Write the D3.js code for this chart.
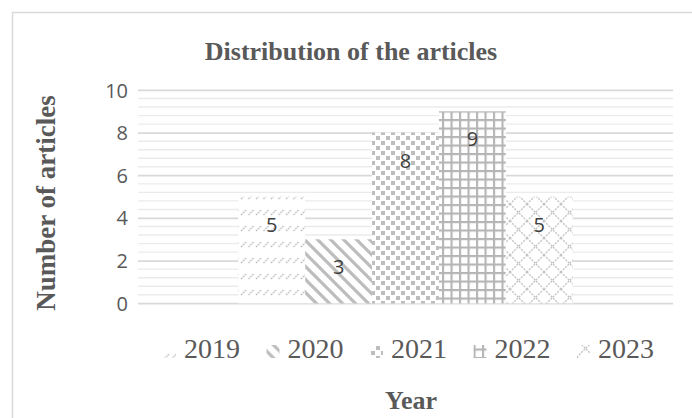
<!DOCTYPE html>
<html>
<head>
<meta charset="utf-8">
<script src="https://cdn.jsdelivr.net/npm/d3@7"></script>
<style>
  body { margin: 0; background: #fff; }
  svg { display: block; }
</style>
</head>
<body>
<script>
const width = 692;
const height = 418;

// data
const years = ['2019', '2020', '2021', '2022', '2023'];
const articles = [5, 3, 8, 9, 5];
const yTicks = [0, 2, 4, 6, 8, 10];

const plot = {left: 138, right: 673, top: 90, bottom: 303.3};
const grey = '#595959';
const hatch = '#bdbdbd';

var svg = d3.select('body').append('svg')
    .attr('width', width)
    .attr('height', height);

// patterns, Excel style: grey on white
const defs = svg.append('defs');

function pattern(id, w, h) {
    const p = defs.append('pattern')
        .attr('id', id)
        .attr('patternUnits', 'userSpaceOnUse')
        .attr('width', w)
        .attr('height', h);
    p.append('rect').attr('width', w).attr('height', h).attr('fill', '#fff');
    return p;
}

// 2019 dashed upward diagonal
pattern('p2019', 7.5, 16).append('path')
    .attr('d', 'M1,7 L6,2')
    .attr('stroke', hatch)
    .attr('stroke-width', 1.3)
    .attr('stroke-dasharray', '1.8,0.9');

// 2020 wide downward diagonal
pattern('p2020', 13, 13).append('path')
    .attr('d', 'M-1,-1 L14,14 M-3,10 L3,16 M10,-3 L16,3')
    .attr('stroke', hatch)
    .attr('stroke-width', 3.2);

// 2021 dotted squares
const p21 = pattern('p2021', 10, 10);
p21.append('rect').attr('x', 1).attr('y', 1).attr('width', 4).attr('height', 4).attr('fill', hatch);
p21.append('rect').attr('x', 6).attr('y', 6).attr('width', 4).attr('height', 4).attr('fill', hatch);

// 2022 small grid
pattern('p2022', 8.5, 8.5).append('path')
    .attr('d', 'M1,0 V8.5 M0,1 H8.5')
    .attr('stroke', '#b5b5b5')
    .attr('stroke-width', 2.2);

// 2023 outlined diamond
pattern('p2023', 17, 17).append('path')
    .attr('d', 'M0,0 L17,17 M17,0 L0,17')
    .attr('stroke', '#c4c4c4')
    .attr('stroke-width', 1.3)
    .attr('stroke-dasharray', '2,1.2');

// chart area border
svg.append('rect')
    .attr('x', 12.5)
    .attr('y', 12.5)
    .attr('width', 700)
    .attr('height', 420)
    .attr('fill', '#fff')
    .attr('stroke', '#d9d9d9')
    .attr('stroke-width', 1.5);

const yScale = d3.scaleLinear()
    .domain([0, 10])
    .range([plot.bottom, plot.top]);

const xScale = d3.scaleBand()
    .domain(years)
    .range([plot.left, plot.right])
    .paddingInner(0)
    .paddingOuter(1.5);

// minor gridlines every 0.4, major every 2
const minor = d3.range(0, 10.001, 0.4);
svg.append('g').selectAll('line')
    .data(minor)
    .enter()
    .append('line')
        .attr('x1', plot.left)
        .attr('x2', plot.right)
        .attr('y1', d => yScale(d))
        .attr('y2', d => yScale(d))
        .attr('stroke', '#ebebeb')
        .attr('stroke-width', 1.4);

const yAxis = d3.axisLeft(yScale)
    .tickValues(yTicks)
    .tickSize(-(plot.right - plot.left))
    .tickPadding(10);

svg.append('g')
    .attr('transform', `translate(${plot.left}, 0)`)
    .call(yAxis)
    .call(g => g.select('.domain').remove())
    .call(g => g.selectAll('.tick line').attr('stroke', '#d9d9d9').attr('stroke-width', 1.5))
    .call(g => g.selectAll('.tick text')
        .attr('fill', grey)
        .attr('font-family', '"Open Sans", sans-serif')
        .attr('font-size', 20)
        .attr('dy', '0.35em'));

// bars
svg.append('g').selectAll('rect')
    .data(years)
    .enter()
    .append('rect')
        .attr('x', d => xScale(d))
        .attr('width', xScale.bandwidth())
        .attr('y', (d, i) => yScale(articles[i]))
        .attr('height', (d, i) => yScale(0) - yScale(articles[i]))
        .attr('fill', d => `url(#p${d})`);

// data labels, inside end
svg.append('g').selectAll('text')
    .data(years)
    .enter()
    .append('text')
        .text((d, i) => articles[i])
        .attr('x', d => xScale(d) + xScale.bandwidth() / 2)
        .attr('y', (d, i) => yScale(articles[i]) + 35)
        .attr('text-anchor', 'middle')
        .attr('fill', '#404040')
        .attr('font-family', '"Open Sans", sans-serif')
        .attr('font-size', 20);

// title
svg.append('text')
    .text('Distribution of the articles')
    .attr('x', 351)
    .attr('y', 60)
    .attr('text-anchor', 'middle')
    .attr('fill', grey)
    .attr('font-family', '"Liberation Serif", "Times New Roman", serif')
    .attr('font-weight', 'bold')
    .attr('font-size', 26);

// axis titles
svg.append('text')
    .text('Number of articles')
    .attr('transform', `translate(55, 203) rotate(-90)`)
    .attr('text-anchor', 'middle')
    .attr('fill', grey)
    .attr('font-family', '"Liberation Serif", "Times New Roman", serif')
    .attr('font-weight', 'bold')
    .attr('font-size', 27);

svg.append('text')
    .text('Year')
    .attr('x', 411)
    .attr('y', 409)
    .attr('text-anchor', 'middle')
    .attr('fill', grey)
    .attr('font-family', '"Liberation Serif", "Times New Roman", serif')
    .attr('font-weight', 'bold')
    .attr('font-size', 26);

// legend
const legend = svg.append('g').selectAll('g')
    .data(years)
    .enter()
    .append('g')
        .attr('transform', (d, i) => `translate(${163 + i * 103.5}, 0)`);

legend.append('rect')
    .attr('x', 0)
    .attr('y', 345)
    .attr('width', 13)
    .attr('height', 13)
    .attr('fill', d => `url(#p${d})`);

legend.append('text')
    .text(d => d)
    .attr('x', 21)
    .attr('y', 358)
    .attr('fill', grey)
    .attr('font-family', '"Liberation Serif", "Times New Roman", serif')
    .attr('font-size', 28);
</script>
</body>
</html>
